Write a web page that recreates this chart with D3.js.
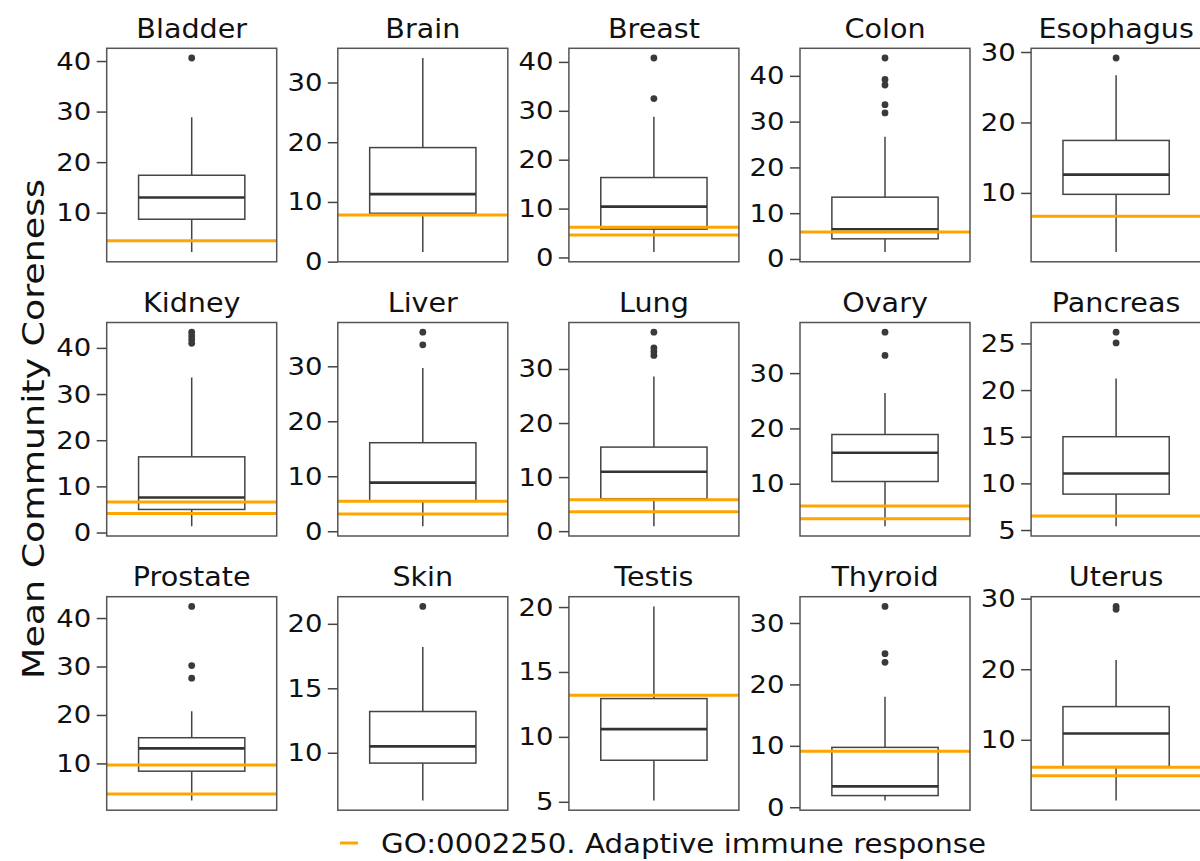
<!DOCTYPE html>
<html>
<head>
<meta charset="utf-8">
<script src="https://cdn.jsdelivr.net/npm/d3@7"></script>
<style>
	body { margin: 0; background: #fff; }
	text { font-family: "DejaVu Sans", sans-serif; fill: #111; }
</style>
</head>
<body>
<svg id="chart" width="1200" height="861"></svg>
<script>
// tissues, one panel each (5 per row)
var tissues = ['Bladder', 'Brain', 'Breast', 'Colon', 'Esophagus',
	'Kidney', 'Liver', 'Lung', 'Ovary', 'Pancreas',
	'Prostate', 'Skin', 'Testis', 'Thyroid', 'Uterus'];

// box plot stats
var whisLo = [2.2, 1.6, 1.1, 1.5, 1.6, 1.35, 0.9, 0.9, 2.3, 5.4, 2.35, 6.3, 5.1, 1.1, 1.4];
var q1     = [8.7, 8.1, 5.8, 4.4, 9.8, 5.0, 5.45, 6.0, 10.4, 8.85, 8.4, 9.2, 8.2, 1.9, 6.2];
var median = [13.0, 11.3, 10.4, 6.5, 12.6, 7.6, 8.85, 11.0, 15.6, 11.05, 13.1, 10.5, 10.6, 3.4, 10.9];
var q3     = [17.4, 19.1, 16.35, 13.5, 17.45, 16.4, 16.1, 15.55, 18.9, 15.0, 15.3, 13.2, 12.95, 9.75, 14.7];
var whisHi = [28.9, 34.1, 28.8, 26.7, 26.7, 33.6, 29.7, 28.6, 26.4, 21.25, 20.75, 18.2, 20.05, 18.0, 21.3];
var outliers = [
	[40.6], [], [40.8, 32.5], [43.9, 39.2, 38.0, 33.7, 31.9], [29.15],
	[43.4, 42.6, 41.8, 41.0], [36.2, 33.9], [36.8, 33.9, 33.2, 32.5], [37.4, 33.2], [26.2, 25.05],
	[42.4, 30.2, 27.6], [21.35], [], [32.7, 25.0, 23.6], [28.9, 28.5]
];
// GO:0002250 reference lines per tissue
var goLines = [
	[4.45], [7.8], [6.2, 4.6], [5.9], [6.7],
	[6.6, 4.1], [5.45, 3.15], [5.8, 3.6], [5.95, 3.65], [6.5],
	[9.65, 3.7], [], [13.2], [9.1], [6.1, 4.9]
];
var tickStep = [10, 10, 10, 10, 10, 10, 10, 10, 10, 5, 10, 5, 5, 10, 10];

var yLabel = 'Mean Community Coreness';
var legendLabel = 'GO:0002250. Adaptive immune response';

var svg = d3.select('#chart');

//panel layout
var panelW = 170, panelH = 213.5;
var left0 = 106.7, top0 = 48.3, colStep = 231.1, rowStep = 274.2;
var stretch = 1.1; // text in the picture is a bit wide
var orange = '#ffa500';
var lineCol = '#444';

tissues.forEach(function(name, i) {
	var col = i % 5, row = Math.floor(i / 5);
	var g = svg.append('g')
		.attr('transform', 'translate(' + (left0 + col*colStep) + ',' + (top0 + row*rowStep) + ')');

	//matplotlib-like autoscale with 5% margins
	var vals = outliers[i].concat([whisLo[i], whisHi[i]]);
	var lo = d3.min(vals), hi = d3.max(vals), pad = (hi - lo)*0.05;
	var y = d3.scaleLinear().domain([lo - pad, hi + pad]).range([panelH, 0]);
	var x = d3.scaleBand().domain([name]).range([0, panelW]).paddingOuter(0.3);
	var cx = x(name) + x.bandwidth()/2;

	var clipId = 'clip' + i;
	g.append('clipPath').attr('id', clipId)
		.append('rect').attr('width', panelW).attr('height', panelH);
	var plot = g.append('g').attr('clip-path', 'url(#' + clipId + ')');

	//whiskers
	plot.append('line')
		.attr('x1', cx).attr('x2', cx)
		.attr('y1', y(q3[i])).attr('y2', y(whisHi[i]))
		.attr('stroke', lineCol).attr('stroke-width', 1.5);
	plot.append('line')
		.attr('x1', cx).attr('x2', cx)
		.attr('y1', y(q1[i])).attr('y2', y(whisLo[i]))
		.attr('stroke', lineCol).attr('stroke-width', 1.5);
	//box
	plot.append('rect')
		.attr('x', x(name)).attr('width', x.bandwidth())
		.attr('y', y(q3[i])).attr('height', y(q1[i]) - y(q3[i]))
		.attr('fill', '#fff')
		.attr('stroke', lineCol).attr('stroke-width', 1.5);
	//median
	plot.append('line')
		.attr('x1', x(name)).attr('x2', x(name) + x.bandwidth())
		.attr('y1', y(median[i])).attr('y2', y(median[i]))
		.attr('stroke', '#333').attr('stroke-width', 2.6);
	//outliers
	plot.selectAll('circle.out').data(outliers[i]).enter()
		.append('circle').attr('class', 'out')
		.attr('cx', cx).attr('cy', d => y(d)).attr('r', 3.4)
		.attr('fill', '#3a3a3a');
	//GO term lines
	plot.selectAll('line.go').data(goLines[i]).enter()
		.append('line').attr('class', 'go')
		.attr('x1', 0).attr('x2', panelW)
		.attr('y1', d => y(d)).attr('y2', d => y(d))
		.attr('stroke', orange).attr('stroke-width', 3);

	//frame
	g.append('rect')
		.attr('width', panelW).attr('height', panelH)
		.attr('fill', 'none')
		.attr('stroke', '#555').attr('stroke-width', 1.5);

	//y axis
	var d0 = y.domain()[0], d1 = y.domain()[1], st = tickStep[i];
	var ticks = d3.range(Math.ceil(d0/st)*st, d1 + 1e-9, st);
	var ax = g.append('g')
		.call(d3.axisLeft(y).tickValues(ticks).tickSize(10).tickPadding(4).tickFormat(d3.format('d')));
	ax.select('.domain').remove();
	ax.selectAll('.tick line').attr('stroke', lineCol).attr('stroke-width', 1.5);
	ax.selectAll('.tick text')
		.style('font-family', '"DejaVu Sans", sans-serif')
		.style('font-size', '25px')
		.attr('fill', '#111')
		.attr('transform', 'scale(' + stretch + ',1)');

	//title
	g.append('text')
		.attr('transform', 'translate(' + panelW/2 + ',-10.5) scale(' + stretch + ',1)')
		.attr('text-anchor', 'middle')
		.style('font-size', '26px')
		.text(name);
});

//shared y label
svg.append('text')
	.attr('transform', 'translate(44,429) rotate(-90)')
	.attr('text-anchor', 'middle')
	.attr('textLength', 500)
	.attr('lengthAdjust', 'spacingAndGlyphs')
	.style('font-size', '30px')
	.text(yLabel);

//legend
var lg = svg.append('g').attr('transform', 'translate(340,843)');
lg.append('line')
	.attr('x1', 0).attr('x2', 18).attr('y1', 0).attr('y2', 0)
	.attr('stroke', orange).attr('stroke-width', 3);
lg.append('text')
	.attr('transform', 'translate(41,10) scale(' + stretch + ',1)')
	.style('font-size', '26.6px')
	.text(legendLabel);
</script>
</body>
</html>
